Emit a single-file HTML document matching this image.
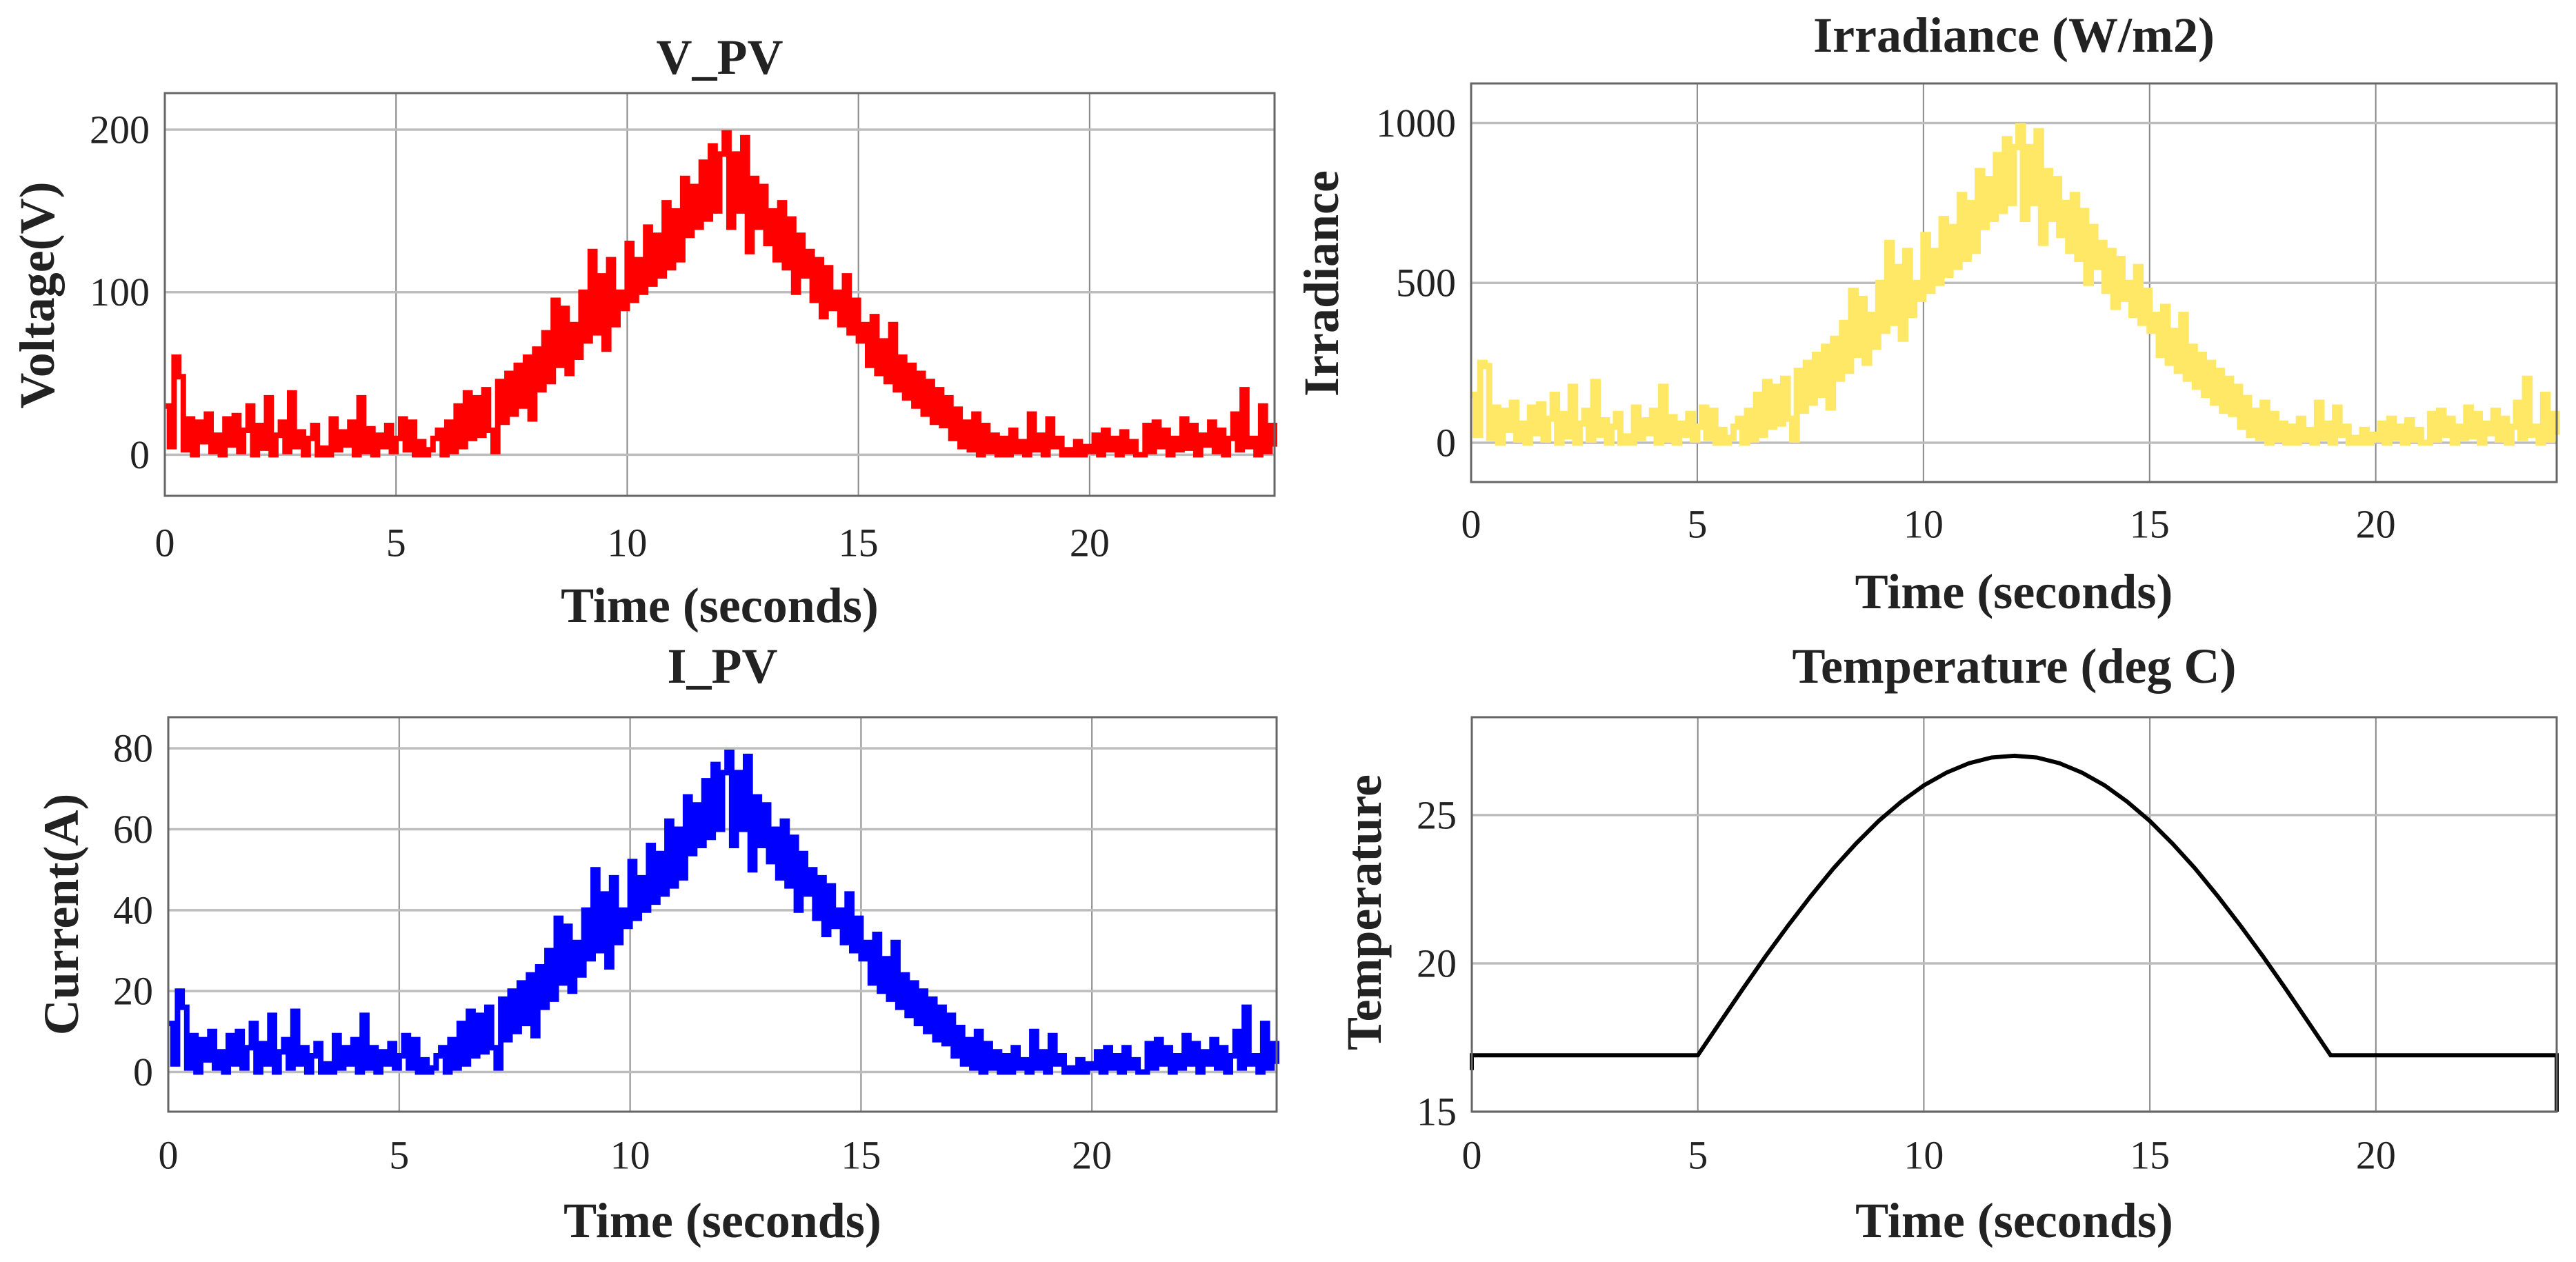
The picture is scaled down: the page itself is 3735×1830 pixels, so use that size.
<!DOCTYPE html>
<html><head><meta charset="utf-8"><style>
html,body{margin:0;padding:0;background:#fff;}
svg{display:block;}
text{font-family:"Liberation Serif",serif;fill:#222;}
.tick{font-size:58px;}
.lab{font-size:72px;font-weight:bold;}
</style></head><body>
<svg id="fig" width="3735" height="1830" viewBox="0 0 3735 1830" xmlns="http://www.w3.org/2000/svg"></svg>
<script>
// ---- data ----
const xTicks = [0,5,10,15,20];
const vTicks = [0,100,200];
const iTicks = [0,20,40,60,80];
const gTicks = [0,500,1000];
const tTicks = [15,20,25];
const voltage = [30,5,60,48,3,22,0,20,8,25,2,
12,0,22,6,24,2,15,30,0,18, 4,35,0,12,20,2,38,5,14,0, 10,18,0,4,0,22,3,14,6,20, 0,35,2,16,0,12,5,18,2,10,
22,3,20,0,8,0,3,10,15,0, 20,2,30,5,38,10,35,12,40,15, 2,45,20,50,25,55,30,60,22,65, 40,75,45,95,55,90,50,80,60,100,
70,125,75,110,65,120,80,100,90,130, 95,120,100,140,105,135,110,155,115,150, 120,170,135,165,140,180,145,190,150,185,
198,140,185,150,195,125,170,140,165,130, 150,120,155,115,145,100,135,110,125,95, 120,85,115,90,100,80,110,75,95,70,
80,55,85,50,70,45,80,40,60,35, 55,30,50,25,45,20,40,18,35,10, 28,5,20,3,25,0,18,2,12,0, 10,0,15,2,8,0,25,3,12,0,
22,5,10,0,3,0,8,0,5,2, 12,0,15,3,10,0,14,2,8,0, 0,18,2,20,5,15,0,10,3,22, 4,18,0,12,6,20,2,15,0,10, 25,3,40,5,10,0,30,2,18,5];
const current = [12,2,20,16,1,9,0,8,3,10,1,
5,0,9,2,10,1,6,12,0,7, 2,14,0,5,8,1,15,2,6,0, 4,7,0,2,0,9,1,6,2,8, 0,14,1,6,0,5,2,7,1,4,
9,1,8,0,3,0,1,4,6,0, 8,1,12,2,15,4,14,5,16,6, 1,18,8,20,10,22,12,24,9,26, 16,30,18,38,22,36,20,32,24,40,
28,50,30,44,26,48,32,40,36,52, 38,48,40,56,42,54,44,62,46,60, 48,68,54,66,56,72,58,76,60,74,
79,56,74,60,78,50,68,56,66,52, 60,48,62,46,58,40,54,44,50,38, 48,34,46,36,40,32,44,30,38,28,
32,22,34,20,28,18,32,16,24,14, 22,12,20,10,18,8,16,7,14,4, 11,2,8,1,10,0,7,1,5,0, 4,0,6,1,3,0,10,1,5,0,
9,2,4,0,1,0,3,0,2,1, 5,0,6,1,4,0,6,1,3,0, 0,7,1,8,2,6,0,4,1,9, 2,7,0,5,2,8,1,6,0,4, 10,1,16,2,4,0,12,1,7,2];
const irradiance = [150,25,250,240,15,110,0,100,40,125,10,
60,0,110,30,120,10,75,150,0,90, 20,175,0,60,100,10,190,25,70,0, 50,90,0,20,0,110,15,70,30,100, 0,175,10,80,0,60,25,90,10,50,
110,15,100,0,40,0,15,50,75,0, 100,10,150,25,190,50,175,60,200,75, 10,225,100,250,125,275,150,300,110,325, 200,375,225,475,275,450,250,400,300,500,
350,625,375,550,325,600,400,500,450,650, 475,600,500,700,525,675,550,775,575,750, 600,850,675,825,700,900,725,950,750,925,
990,700,925,750,975,625,850,700,825,650, 750,600,775,575,725,500,675,550,625,475, 600,425,575,450,500,400,550,375,475,350,
400,275,425,250,350,225,400,200,300,175, 275,150,250,125,225,100,200,90,175,50, 140,25,100,15,125,0,90,10,60,0, 50,0,75,10,40,0,125,15,60,0,
110,25,50,0,15,0,40,0,25,10, 60,0,75,15,50,0,70,10,40,0, 0,90,10,100,25,75,0,50,15,110, 20,90,0,60,30,100,10,75,0,50, 125,15,200,25,50,0,150,10,90,25];
const tempTimes = [0,0,5,5.5,6,6.5,7,7.5,8,8.5,9,9.5,10,10.5,11,11.5,12,12.5,13,13.5,14,14.5,15,15.5,16,16.5,17,17.5,18,18.5,19,24,24];
const tempVals = [16.4,16.9,16.9,18.03,19.15,20.24,21.28,22.27,23.2,24.04,24.8,25.45,26.0,26.43,26.75,26.94,27.0,26.94,26.75,26.43,26.0,25.45,24.8,24.04,23.2,22.27,21.28,20.24,19.15,18.03,16.9,16.9,15.0];

const svg = document.getElementById('fig');
const NS = 'http://www.w3.org/2000/svg';
function mk(tag, attrs, parent){const e=document.createElementNS(NS,tag);for(const k in attrs)e.setAttribute(k,attrs[k]);(parent||svg).appendChild(e);return e;}

function panel(cfg){
  const g = mk('g',{});
  
  
  const sx = v => cfg.x0 + (v-0)/(24-0)*(cfg.x1-cfg.x0);
  const sy = v => cfg.yb - (v-cfg.ymin)/(cfg.ymax-cfg.ymin)*(cfg.yb-cfg.yt);
  mk('rect',{x:cfg.x0,y:cfg.yt,width:cfg.x1-cfg.x0,height:cfg.yb-cfg.yt,fill:'#fff'},g);
  xTicks.forEach(t=>{
    const l=mk('line',{x1:sx(t),x2:sx(t),y1:cfg.yt,y2:cfg.yb,stroke:'#888','stroke-width':2},g);
    
    
    const tx=mk('text',{x:sx(t),y:cfg.xtY,'text-anchor':'middle','dominant-baseline':'central',class:'tick'},g);
    tx.textContent=t;
    
    
  });
  cfg.yTicks.forEach(t=>{
    const l=mk('line',{x1:cfg.x0,x2:cfg.x1,y1:sy(t),y2:sy(t),stroke:'#bdbdbd','stroke-width':3.5},g);
    
    
    const tx=mk('text',{x:cfg.x0-22,y:sy(t),'text-anchor':'end','dominant-baseline':'central',class:'tick'},g);
    tx.textContent=t;
    
    
  });
  let d='';
  for(let i=0;i<cfg.vals.length;i++){
    const t = cfg.times ? cfg.times[i] : i*0.1;
    const X=sx(t).toFixed(1), Y=sy(cfg.vals[i]).toFixed(1);
    if(i===0) d+='M'+X+' '+Y;
    else if(cfg.step) d+='H'+X+'V'+Y;
    else d+='L'+X+' '+Y;
  }
  if(cfg.step) d+='H'+sx(24).toFixed(1);
  const p=mk('path',{d:d,fill:'none',stroke:cfg.color,'stroke-width':cfg.lw,'stroke-linejoin':'miter','stroke-miterlimit':2},g);
  
  
  const b=mk('rect',{x:cfg.x0,y:cfg.yt,width:cfg.x1-cfg.x0,height:cfg.yb-cfg.yt,fill:'none',stroke:'#666','stroke-width':3},g);
  
  
  const cx=(cfg.x0+cfg.x1)/2;
  const ti=mk('text',{x:cx,y:cfg.titleY,'text-anchor':'middle','dominant-baseline':'central',class:'lab'},g);
  ti.textContent=cfg.title;
  
  
  const xl=mk('text',{x:cx,y:cfg.xlY,'text-anchor':'middle','dominant-baseline':'central',class:'lab'},g);
  xl.textContent='Time (seconds)';
  
  
  const yl=mk('text',{x:0,y:0,'text-anchor':'middle','dominant-baseline':'central',class:'lab',transform:'translate('+cfg.ylX+','+cfg.ylY+') rotate(-90)'},g);
  yl.textContent=cfg.ylabel;
  
  
}

panel({name:'voltage-panel',seriesName:'voltage-line',x0:239,x1:1848,yt:135,yb:719,ymin:-25.3,ymax:222.5,yTicks:vTicks,vals:voltage,color:'#ff0000',lw:8,step:true,
  title:'V_PV',titleY:83,xtY:787,xlY:878,ylabel:'Voltage(V)',ylX:54,ylY:428});
panel({name:'irradiance-panel',seriesName:'irradiance-line',x0:2133,x1:3707,yt:121,yb:699,ymin:-123,ymax:1124,yTicks:gTicks,vals:irradiance,color:'#ffe866',lw:9,step:true,
  title:'Irradiance (W/m2)',titleY:51,xtY:760,xlY:858,ylabel:'Irradiance',ylX:1916,ylY:411});
panel({name:'current-panel',seriesName:'current-line',x0:244,x1:1851,yt:1040,yb:1612,ymin:-9.8,ymax:87.7,yTicks:iTicks,vals:current,color:'#0000ff',lw:8,step:true,
  title:'I_PV',titleY:966,xtY:1675,xlY:1770,ylabel:'Current(A)',ylX:89,ylY:1326});
panel({name:'temperature-panel',seriesName:'temperature-line',x0:2134,x1:3707,yt:1040,yb:1612,ymin:15,ymax:28.3,yTicks:tTicks,vals:tempVals,times:tempTimes,color:'#000',lw:6,
  title:'Temperature (deg C)',titleY:966,xtY:1675,xlY:1770,ylabel:'Temperature',ylX:1978,ylY:1323});
</script>
</body></html>
